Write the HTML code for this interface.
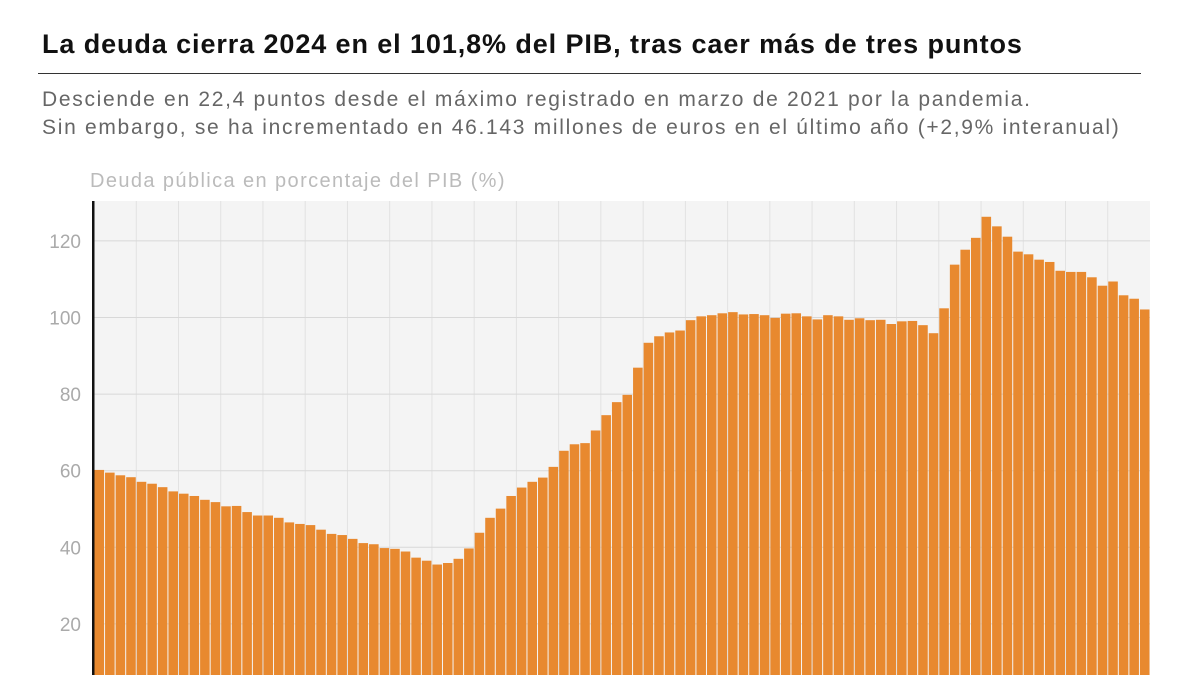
<!DOCTYPE html>
<html><head><meta charset="utf-8"><style>
body{margin:0;width:1200px;height:675px;overflow:hidden;background:#fff;font-family:"Liberation Sans",sans-serif;position:relative}
.t{position:absolute;left:42px;top:29px;font-size:27px;font-weight:bold;color:#111;letter-spacing:0.9px;white-space:nowrap}
.hr{position:absolute;left:38px;top:73px;width:1103px;height:1px;background:#333}
.s{position:absolute;left:42px;font-size:21px;color:#666;letter-spacing:1.7px;white-space:nowrap}
svg{position:absolute;left:0;top:0}
</style></head><body>
<svg id="c" width="1200" height="675"></svg>
<div class="t">La deuda cierra 2024 en el 101,8% del PIB, tras caer más de tres puntos</div>
<div class="hr"></div>
<div class="s" style="top:88px">Desciende en 22,4 puntos desde el máximo registrado en marzo de 2021 por la pandemia.</div>
<div class="s" style="top:116px">Sin embargo, se ha incrementado en 46.143 millones de euros en el último año (+2,9% interanual)</div>
<script>
(function(){
var v=[60.2,59.5,58.8,58.3,57.1,56.6,55.7,54.6,54,53.4,52.4,51.8,50.7,50.8,49.2,48.3,48.3,47.7,46.5,46.1,45.8,44.6,43.5,43.2,42.2,41.1,40.8,39.8,39.6,38.9,37.3,36.5,35.5,35.9,37.0,39.7,43.8,47.7,50.1,53.4,55.6,57.1,58.2,61.0,65.2,66.9,67.2,70.5,74.5,77.9,79.8,86.9,93.4,95.1,96.1,96.6,99.3,100.3,100.6,101.1,101.4,100.8,100.9,100.6,99.9,101.0,101.1,100.3,99.5,100.6,100.3,99.4,99.8,99.3,99.4,98.3,99.0,99.1,98.0,95.9,102.4,113.8,117.7,120.8,126.3,123.8,121.1,117.2,116.5,115.1,114.5,112.2,111.9,111.9,110.5,108.3,109.4,105.8,104.9,102.1];
var x0=94,x1=1150,pt=201,n=v.length,w=(x1-x0)/n;
function y(a){return 700.5-3.83*a}
var s='<rect x="'+x0+'" y="'+pt+'" width="'+(x1-x0)+'" height="'+(675-pt)+'" fill="#f4f4f4"/>';
for(var i=4;i<n;i+=4){var gx=x0+i*w;s+='<line x1="'+gx+'" x2="'+gx+'" y1="'+pt+'" y2="675" stroke="#e2e2e2" stroke-width="1"/>';}
[20,40,60,80,100,120].forEach(function(a){s+='<line x1="'+x0+'" x2="'+x1+'" y1="'+y(a)+'" y2="'+y(a)+'" stroke="#d8d8d8" stroke-width="1"/><text x="81" y="'+(y(a)+7)+'" text-anchor="end" font-size="19" fill="#aaa" font-family="Liberation Sans, sans-serif">'+a+'</text>';});
for(var i=0;i<n;i++){s+='<rect x="'+(x0+i*w+0.5)+'" y="'+y(v[i])+'" width="'+(w-1)+'" height="'+(700-y(v[i]))+'" fill="#e8892f"/>';}
s+='<rect x="92" y="'+pt+'" width="2.5" height="'+(675-pt)+'" fill="#111"/>';
s+='<text x="90" y="187" font-size="20" letter-spacing="1.4" fill="#bbb" font-family="Liberation Sans, sans-serif">Deuda pública en porcentaje del PIB (%)</text>';
document.getElementById('c').innerHTML=s;
})();
</script>
</body></html>
